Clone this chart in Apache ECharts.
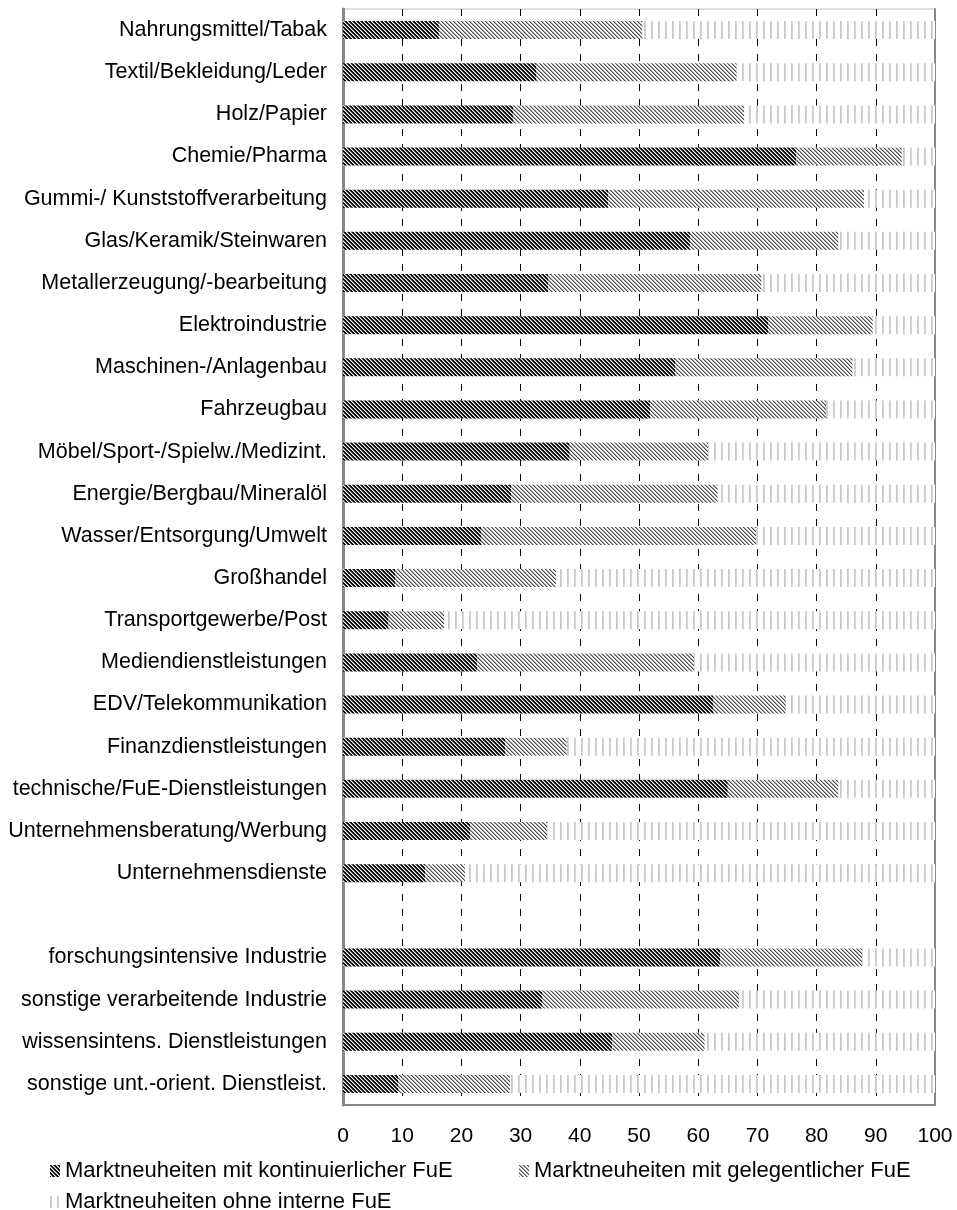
<!DOCTYPE html>
<html>
<head>
<meta charset="utf-8">
<script src="https://cdn.jsdelivr.net/npm/echarts@6/dist/echarts.min.js"></script>
<style>
html,body{margin:0;padding:0;background:#fff;}
#chart{width:957px;height:1210px;}
</style>
</head>
<body>
<div id="chart"></div>
<script>
const categories = [
  "Nahrungsmittel/Tabak",
  "Textil/Bekleidung/Leder",
  "Holz/Papier",
  "Chemie/Pharma",
  "Gummi-/ Kunststoffverarbeitung",
  "Glas/Keramik/Steinwaren",
  "Metallerzeugung/-bearbeitung",
  "Elektroindustrie",
  "Maschinen-/Anlagenbau",
  "Fahrzeugbau",
  "Möbel/Sport-/Spielw./Medizint.",
  "Energie/Bergbau/Mineralöl",
  "Wasser/Entsorgung/Umwelt",
  "Großhandel",
  "Transportgewerbe/Post",
  "Mediendienstleistungen",
  "EDV/Telekommunikation",
  "Finanzdienstleistungen",
  "technische/FuE-Dienstleistungen",
  "Unternehmensberatung/Werbung",
  "Unternehmensdienste",
  "",
  "forschungsintensive Industrie",
  "sonstige verarbeitende Industrie",
  "wissensintens. Dienstleistungen",
  "sonstige unt.-orient. Dienstleist."
];
const seriesNames = [
  "Marktneuheiten mit kontinuierlicher FuE",
  "Marktneuheiten mit gelegentlicher FuE",
  "Marktneuheiten ohne interne FuE"
];
const kontinuierlich = [16.2, 32.7, 28.8, 76.6, 44.8, 58.6, 34.7, 71.8, 56.1, 51.9, 38.3, 28.4, 23.4, 8.8, 7.7, 22.7, 62.6, 27.4, 65.0, 21.5, 13.9, null, 63.7, 33.6, 45.5, 9.3];
const gelegentlich = [34.4, 33.8, 39.0, 17.8, 43.2, 25.1, 36.0, 17.7, 30.0, 29.7, 23.4, 34.9, 46.4, 27.2, 9.4, 36.6, 12.2, 10.4, 18.7, 13.0, 6.7, null, 24.0, 33.3, 15.6, 18.9];
const ohneFuE = [49.4, 33.5, 32.2, 5.6, 12.0, 16.3, 29.3, 10.5, 13.9, 18.4, 38.3, 36.7, 30.2, 64.0, 82.9, 40.7, 25.2, 62.2, 16.3, 65.5, 79.4, null, 12.3, 33.1, 38.9, 71.8];
const xTicks = { min: 0, max: 100, interval: 10 };

function makePattern(w, h, fn) {
  const c = document.createElement('canvas');
  c.width = w; c.height = h;
  const ctx = c.getContext('2d');
  for (let y = 0; y < h; y++) {
    for (let x = 0; x < w; x++) {
      ctx.fillStyle = fn(x, y);
      ctx.fillRect(x, y, 1, 1);
    }
  }
  return { image: c, repeat: 'repeat' };
}
const darkPat = makePattern(4, 4, (x, y) => {
  const k = ((x - y) % 4 + 4) % 4;
  return ['#000000', '#1a1a1a', '#ffffff', '#7a7a7a'][k];
});
const midPat = makePattern(4, 4, (x, y) => {
  const k = ((x - y) % 4 + 4) % 4;
  return ['#4a4a4a', '#a8a8a8', '#ffffff', '#ececec'][k];
});
const lightPat = makePattern(7, 1, (x, y) => {
  return ['#c8c8c8', '#d4d4d4', '#ffffff', '#ffffff', '#ffffff', '#ffffff', '#ffffff'][x];
});

const font = 'Liberation Sans, Arial, sans-serif';
const chart = echarts.init(document.getElementById('chart'), null, { renderer: 'canvas' });
const legendBase = {
  icon: 'rect', itemWidth: 10, itemHeight: 12, itemGap: 4,
  textStyle: { fontFamily: font, fontSize: 22, color: '#000' }
};
chart.setOption({
  animation: false,
  backgroundColor: '#fff',
  grid: { left: 343, right: 22, top: 9, bottom: 105, containLabel: false, show: true, borderColor: '#c0c0c0', borderWidth: 1 },
  legend: [
    Object.assign({}, legendBase, { data: [seriesNames[0]], left: 45, top: 1155 }),
    Object.assign({}, legendBase, { data: [seriesNames[1]], left: 514, top: 1155 }),
    Object.assign({}, legendBase, { data: [seriesNames[2]], left: 45, top: 1186 })
  ],
  xAxis: {
    type: 'value', min: xTicks.min, max: xTicks.max, interval: xTicks.interval,
    axisLine: { show: true, lineStyle: { color: '#888', width: 2 } },
    axisTick: { show: false },
    axisLabel: { fontFamily: font, fontSize: 21, color: '#000', margin: 21 },
    splitLine: { show: true, lineStyle: { color: '#000', width: 1, type: [7, 8] } }
  },
  yAxis: [
    {
      type: 'category', data: categories, inverse: true,
      axisLine: { show: true, lineStyle: { color: '#888', width: 3 } },
      axisTick: { show: false },
      axisLabel: { fontFamily: font, fontSize: 21.5, color: '#000', margin: 16 }
    },
    {
      type: 'category', data: categories, inverse: true, position: 'right',
      axisLine: { show: true, lineStyle: { color: '#888', width: 2 } },
      axisTick: { show: false }, axisLabel: { show: false }
    }
  ],
  series: [
    { name: seriesNames[0], type: 'bar', stack: 'a', data: kontinuierlich, barWidth: 18, itemStyle: { color: darkPat } },
    { name: seriesNames[1], type: 'bar', stack: 'a', data: gelegentlich, barWidth: 18, itemStyle: { color: midPat } },
    { name: seriesNames[2], type: 'bar', stack: 'a', data: ohneFuE, barWidth: 18, itemStyle: { color: lightPat } }
  ]
});
</script>
</body>
</html>
